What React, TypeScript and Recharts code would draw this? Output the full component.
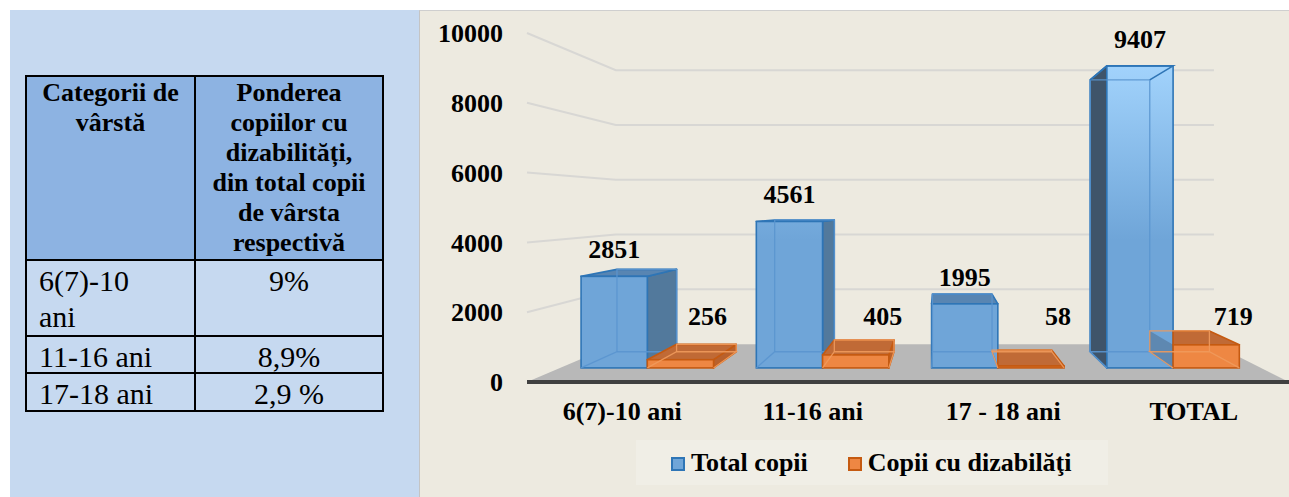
import React from 'react';
import { BarChart, Bar, XAxis, YAxis, CartesianGrid, Legend, LabelList } from 'recharts';

// ---------- data ----------
const categories = ['6(7)-10 ani', '11-16 ani', '17 - 18 ani', 'TOTAL'];
const totalCopii = [2851, 4561, 1995, 9407];
const copiiDizabilitati = [256, 405, 58, 719];
const yTicks = [0, 2000, 4000, 6000, 8000, 10000];
const seriesNames = ['Total copii', 'Copii cu dizabilăţi'];

const tableHeaders = [
  'Categorii de vârstă',
  'Ponderea copiilor cu dizabilități, din total copii de vârsta respectivă',
];
const tableAgeGroups = ['6(7)-10 ani', '11-16 ani', '17-18 ani'];
const tableShares = ['9%', '8,9%', '2,9 %'];

const data = categories.map((name, i) => ({
  name,
  total: totalCopii[i],
  dis: copiiDizabilitati[i],
}));

// ---------- layout / style ----------
const FONT = "'Liberation Serif', 'Times New Roman', Times, Tinos, 'DejaVu Serif', 'Noto Serif', serif";
const CHART_W = 869;
const CHART_H = 487;
const MARGIN = { top: 23, right: 0, left: 0, bottom: 40 };
const PLOT_BOTTOM = 372;
const VX = 520;
const VY = 196;
const S_WALL = 0.785;
const S_FRONT = 0.92;
const S_BACK = 0.828;

const proj = (x: number, y: number, s: number): [number, number] => [
  VX + (x - VX) * s,
  VY + (y - VY) * s,
];
const pts = (...p: [number, number][]) => p.map((q) => `${q[0]},${q[1]}`).join(' ');

const textStyle = { fill: '#000', fontSize: 26, fontWeight: 700, fontFamily: FONT };

const COLORS: Record<string, any> = {
  blue: {
    front: 'url(#blueFront)',
    stroke: '#2e75b6',
    top: '#5885b2',
    right: '#52799c',
    left: '#3f546a',
    inner: '#5a95cf',
  },
  orange: {
    front: '#ee8743',
    stroke: '#c55a11',
    top: '#c06a36',
    right: '#b8612d',
    left: '#b8612d',
    inner: '#f09a5c',
  },
};

const renderGridLine = (props: any) => {
  const { x1, x2, y1 } = props;
  const l = proj(x1, y1, S_WALL);
  const r = proj(x2, y1, S_WALL);
  if (Math.abs(y1 - PLOT_BOTTOM) < 1.5) {
    return (
      <polygon
        key={`floor-${y1}`}
        points={pts([x1, y1], l, r, [x2, y1])}
        fill="#b8b8b8"
      />
    );
  }
  return (
    <polyline
      key={`grid-${y1}`}
      points={pts([x1, y1], l, r)}
      fill="none"
      stroke="#d8d7d4"
      strokeWidth={2}
    />
  );
};

const makeBox = (kind: 'blue' | 'orange') => (props: any) => {
  const { x, y, width, height } = props;
  if (width == null || height == null || !isFinite(x) || !isFinite(y)) return <g />;
  const c = COLORS[kind];
  const x0 = x;
  const x1 = x + width;
  const yt = y;
  const yb = y + height;
  const fTL = proj(x0, yt, S_FRONT);
  const fTR = proj(x1, yt, S_FRONT);
  const fBL = proj(x0, yb, S_FRONT);
  const fBR = proj(x1, yb, S_FRONT);
  const bTL = proj(x0, yt, S_BACK);
  const bTR = proj(x1, yt, S_BACK);
  const bBL = proj(x0, yb, S_BACK);
  const bBR = proj(x1, yb, S_BACK);
  const showRight = x1 < VX;
  const showLeft = x0 > VX;
  const showTop = yt > VY;
  const hiddenBehindNeighbour = kind === 'orange' && showLeft;
  const sw = 1.6;
  let topPoly = pts(fTL, fTR, bTR, bTL);
  if (hiddenBehindNeighbour) {
    topPoly = pts(fTL, fTR, bTR, [fTL[0], bTL[1]]);
  }
  return (
    <g>
      {showRight && (
        <polygon points={pts(fTR, bTR, bBR, fBR)} fill={c.right} stroke={c.stroke} strokeWidth={sw} strokeLinejoin="round" />
      )}
      {showLeft && !hiddenBehindNeighbour && (
        <polygon points={pts(bTL, fTL, fBL, bBL)} fill={c.left} stroke={c.stroke} strokeWidth={sw} strokeLinejoin="round" />
      )}
      {hiddenBehindNeighbour && (
        <polygon points={pts(bTL, fTL, fBL, bBL)} fill="#3f546a" fillOpacity={0.35} stroke="none" />
      )}
      {showTop && (
        <polygon points={topPoly} fill={c.top} stroke={c.stroke} strokeWidth={sw} strokeLinejoin="round" />
      )}
      <rect
        x={fTL[0]}
        y={fTL[1]}
        width={fTR[0] - fTL[0]}
        height={fBL[1] - fTL[1]}
        fill={c.front}
        stroke={c.stroke}
        strokeWidth={sw}
      />
      <polyline
        points={pts(fBL, bBL, bBR, fBR)}
        fill="none"
        stroke={c.inner}
        strokeWidth={1.3}
        strokeOpacity={0.9}
      />
      <polyline
        points={pts(bBL, bTL, bTR, bBR)}
        fill="none"
        stroke={c.inner}
        strokeWidth={1.3}
        strokeOpacity={0.9}
      />
      {!showTop && (
        <polyline points={pts(bTL, fTL, fTR, bTR)} fill="none" stroke={c.stroke} strokeWidth={sw} />
      )}
    </g>
  );
};

const renderBlueLabel = (props: any) => {
  const { x, y, width, value } = props;
  const [cx, ty] = proj(Number(x) + Number(width) / 2, Number(y), S_FRONT);
  return (
    <text x={cx} y={ty - 18} textAnchor="middle" style={textStyle}>
      {value}
    </text>
  );
};

const renderOrangeLabel = (props: any) => {
  const { x, y, width, height, value } = props;
  const [rx] = proj(Number(x) + Number(width), Number(y), S_FRONT);
  const [, by] = proj(Number(x), Number(y) + Number(height), S_FRONT);
  return (
    <text x={rx - 6} y={by - 43} textAnchor="middle" style={textStyle}>
      {value}
    </text>
  );
};

const legendMarkers = [
  { fill: '#6fa5d8', stroke: '#2e75b6' },
  { fill: '#ee8743', stroke: '#c55a11' },
];

const renderLegend = () => (
  <div
    style={{
      width: 472,
      height: 45,
      background: '#f0eee6',
      display: 'flex',
      alignItems: 'center',
      paddingLeft: 35,
      boxSizing: 'border-box',
      fontFamily: FONT,
      fontWeight: 700,
      fontSize: 26,
      color: '#000',
      lineHeight: '30px',
      whiteSpace: 'nowrap',
    }}
  >
    {seriesNames.map((n, i) => (
      <div key={n} style={{ display: 'flex', alignItems: 'center', marginRight: 40, flexShrink: 0 }}>
        <span
          style={{
            display: 'inline-block',
            width: 14,
            height: 14,
            boxSizing: 'border-box',
            background: legendMarkers[i].fill,
            border: `2px solid ${legendMarkers[i].stroke}`,
            marginRight: 6,
            marginTop: 2,
            flexShrink: 0,
          }}
        />
        <span>{n}</span>
      </div>
    ))}
  </div>
);

const cellBase: React.CSSProperties = {
  borderRight: '2px solid #000',
  borderBottom: '2px solid #000',
  boxSizing: 'border-box',
  color: '#000',
};
const headCell: React.CSSProperties = {
  ...cellBase,
  background: '#8db3e2',
  fontWeight: 700,
  fontSize: 26,
  lineHeight: '30px',
  textAlign: 'center',
  paddingTop: 1,
};
const bodyCell: React.CSSProperties = {
  ...cellBase,
  fontSize: 30,
  lineHeight: '36px',
  paddingTop: 2,
};

export default function App() {
  return (
    <div
      style={{
        position: 'absolute',
        left: 0,
        top: 0,
        width: 1289,
        height: 497,
        background: '#fff',
        overflow: 'hidden',
        fontFamily: FONT,
      }}
    >
      <div style={{ position: 'absolute', left: 10, top: 10, width: 409, height: 487, background: '#c6d9f0' }} />
      <div
        style={{
          position: 'absolute',
          left: 25,
          top: 75,
          display: 'grid',
          gridTemplateColumns: '169px 188px',
          gridTemplateRows: '184px 76px 37px 38px',
          borderTop: '2px solid #000',
          borderLeft: '2px solid #000',
        }}
      >
        <div style={headCell}>{tableHeaders[0]}</div>
        <div style={{ ...headCell, paddingLeft: 12, paddingRight: 12 }}>{tableHeaders[1]}</div>
        {tableAgeGroups.map((g, i) => (
          <React.Fragment key={g}>
            <div style={{ ...bodyCell, paddingLeft: 12, paddingRight: 30, textAlign: 'left' }}>{g}</div>
            <div style={{ ...bodyCell, textAlign: 'center' }}>{tableShares[i]}</div>
          </React.Fragment>
        ))}
      </div>

      <div
        style={{
          position: 'absolute',
          left: 419,
          top: 10,
          width: 870,
          height: 487,
          background: '#edeae0',
          borderTop: '1px solid #cfcfcf',
          borderLeft: '1px solid #c4c4c4',
          boxSizing: 'border-box',
        }}
      />
      <div style={{ position: 'absolute', left: 420, top: 10 }}>
        <BarChart
          width={CHART_W}
          height={CHART_H}
          data={data}
          margin={MARGIN}
          barCategoryGap="12%"
          barGap={0}
        >
          <defs>
            <linearGradient id="blueFront" gradientUnits="userSpaceOnUse" x1="0" y1="55" x2="0" y2="230">
              <stop offset="0" stopColor="#a2d3fc" />
              <stop offset="1" stopColor="#6fa5d8" />
            </linearGradient>
          </defs>
          <CartesianGrid vertical={false} horizontal={renderGridLine} />
          <XAxis
            dataKey="name"
            interval={0}
            height={30}
            tickLine={false}
            tickSize={0}
            tickMargin={20}
            axisLine={{ stroke: '#404040', strokeWidth: 4 }}
            tick={textStyle}
          />
          <YAxis
            type="number"
            domain={[0, 10000]}
            ticks={yTicks}
            interval={0}
            width={107}
            tickLine={false}
            axisLine={false}
            tickSize={0}
            tickMargin={24}
            tick={textStyle}
          />
          <Legend
            verticalAlign="bottom"
            content={renderLegend}
            wrapperStyle={{ left: 216, top: 430, width: 472, height: 45, bottom: 'auto' }}
          />
          <Bar
            dataKey="total"
            name={seriesNames[0]}
            fill="#6fa5d8"
            isAnimationActive={false}
            shape={makeBox('blue')}
          >
            <LabelList dataKey="total" content={renderBlueLabel} />
          </Bar>
          <Bar
            dataKey="dis"
            name={seriesNames[1]}
            fill="#ee8743"
            isAnimationActive={false}
            shape={makeBox('orange')}
          >
            <LabelList dataKey="dis" content={renderOrangeLabel} />
          </Bar>
        </BarChart>
      </div>
    </div>
  );
}
